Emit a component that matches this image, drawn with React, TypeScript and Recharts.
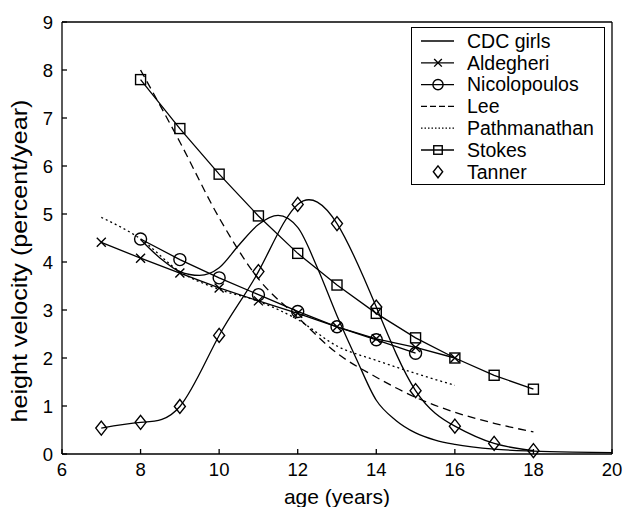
import React from 'react'
import { LineChart, Line, XAxis, YAxis, Legend } from 'recharts'

const FONT = '"Liberation Sans", Arial, Helvetica, sans-serif'

const xTicks = [6, 8, 10, 12, 14, 16, 18, 20]
const xTicksTop = [8, 10, 12, 14, 16, 18]
const yTicks = [0, 1, 2, 3, 4, 5, 6, 7, 8, 9]
const yTicksRight = [1, 2, 3, 4, 5, 6, 7, 8]

// CDC girls reference curve
const cdcAge = [8, 8.5, 9, 9.5, 10, 10.5, 11, 11.5, 12, 12.5, 13, 13.5, 14, 14.5, 15, 15.5, 16, 17, 18, 19, 20]
const cdcVel = [4.47, 4.08, 3.8, 3.72, 3.88, 4.35, 4.78, 4.97, 4.72, 3.88, 2.88, 1.97, 1.12, 0.7, 0.44, 0.29, 0.2, 0.1, 0.06, 0.04, 0.03]

const aldegheriAge = [7, 8, 9, 10, 11, 12, 13, 14, 15, 16]
const aldegheriVel = [4.41, 4.08, 3.77, 3.46, 3.19, 2.93, 2.65, 2.4, 2.22, 2.0]

const nicolopoulosAge = [8, 9, 10, 11, 12, 13, 14, 15]
const nicolopoulosVel = [4.48, 4.05, 3.67, 3.32, 2.97, 2.65, 2.38, 2.1]

const leeAge = [8, 9, 10, 11, 12, 13, 14, 15, 16, 17, 18]
const leeVel = [8.0, 6.5, 4.92, 3.65, 2.85, 2.1, 1.6, 1.18, 0.87, 0.64, 0.46]

const pathmanathanAge = [7, 8, 9, 10, 11, 12, 13, 14, 15, 16]
const pathmanathanVel = [4.93, 4.48, 3.8, 3.43, 3.18, 2.8, 2.25, 1.95, 1.68, 1.43]

const stokesAge = [8, 9, 10, 11, 12, 13, 14, 15, 16, 17, 18]
const stokesVel = [7.8, 6.78, 5.83, 4.96, 4.18, 3.52, 2.93, 2.42, 2.0, 1.64, 1.35]

const tannerAge = [7, 8, 9, 10, 11, 12, 13, 14, 15, 16, 17, 18]
const tannerVel = [0.54, 0.66, 0.99, 2.47, 3.8, 5.2, 4.8, 3.06, 1.32, 0.58, 0.22, 0.07]

type Pt = { age: number; v: number }
type Shape = 'x' | 'o' | 's' | 'd' | null

const zip = (a: number[], v: number[]): Pt[] => a.map((age, i) => ({ age, v: v[i] }))

function Marker({ shape, cx, cy, k = 1 }: { shape: Shape; cx: number; cy: number; k?: number }) {
  const common = { stroke: '#000', strokeWidth: 1.4, fill: 'none' }
  if (shape === 'x') {
    const h = 4.5 * k
    return <path {...common} d={`M${cx - h},${cy - h}L${cx + h},${cy + h}M${cx - h},${cy + h}L${cx + h},${cy - h}`} />
  }
  if (shape === 'o') return <circle {...common} cx={cx} cy={cy} r={6 * k} />
  if (shape === 's') {
    const h = 5 * k
    return <rect {...common} x={cx - h} y={cy - h} width={2 * h} height={2 * h} />
  }
  if (shape === 'd') {
    const w = 5.5 * k
    const h = 7 * k
    return <path {...common} d={`M${cx},${cy - h}L${cx + w},${cy}L${cx},${cy + h}L${cx - w},${cy}Z`} />
  }
  return <g />
}

const series = [
  { name: 'CDC girls', data: zip(cdcAge, cdcVel), curve: 'monotone', dash: undefined, marker: null as Shape, line: true },
  { name: 'Aldegheri', data: zip(aldegheriAge, aldegheriVel), curve: 'linear', dash: undefined, marker: 'x' as Shape, line: true },
  { name: 'Nicolopoulos', data: zip(nicolopoulosAge, nicolopoulosVel), curve: 'linear', dash: undefined, marker: 'o' as Shape, line: true },
  { name: 'Lee', data: zip(leeAge, leeVel), curve: 'monotone', dash: '8 5', marker: null as Shape, line: true },
  { name: 'Pathmanathan', data: zip(pathmanathanAge, pathmanathanVel), curve: 'monotone', dash: '2 3', marker: null as Shape, line: true },
  { name: 'Stokes', data: zip(stokesAge, stokesVel), curve: 'linear', dash: undefined, marker: 's' as Shape, line: true },
  { name: 'Tanner', data: zip(tannerAge, tannerVel), curve: 'natural', dash: undefined, marker: 'd' as Shape, line: false },
]

const legendDash: Record<string, string | undefined> = { Lee: '6 3', Pathmanathan: '1.5 2' }

function LegendBox() {
  return (
    <div
      style={{
        width: 194,
        height: 158,
        border: '1.5px solid #000',
        background: '#fff',
        boxSizing: 'border-box',
        fontFamily: FONT,
      }}
    >
      <svg width={191} height={155} style={{ display: 'block' }}>
        {series.map((s, i) => {
          const y = 13 + i * 21.8
          return (
            <g key={s.name}>
              {s.line && (
                <line x1={9} x2={42} y1={y} y2={y} stroke="#000" strokeWidth={1.3} strokeDasharray={legendDash[s.name]} />
              )}
              <Marker shape={s.marker} cx={26} cy={y} k={0.85} />
              <text x={55} y={y} dy="0.35em" fontSize={19.5} fill="#000">
                {s.name}
              </text>
            </g>
          )
        })}
      </svg>
    </div>
  )
}

export default function App() {
  const tickStyle = { fontSize: 18.5, fill: '#000', fontFamily: FONT }
  const axisLine = { stroke: '#000', strokeWidth: 1.3 }
  return (
    <div style={{ position: 'absolute', left: 0, top: 0, width: 624, height: 507, background: '#fff', fontFamily: FONT }}>
      <LineChart width={624} height={507} margin={{ top: 12, right: 2, bottom: 0, left: 0 }}>
        <XAxis
          dataKey="age"
          type="number"
          domain={[6, 20]}
          ticks={xTicks}
          allowDuplicatedCategory={false}
          height={53}
          tickSize={-5}
          tickMargin={14}
          tick={tickStyle}
          axisLine={axisLine}
          tickLine={axisLine}
          label={{
            value: 'age (years)',
            position: 'insideBottom',
            offset: 3,
            style: { fontSize: 21, fill: '#000', fontFamily: FONT },
          }}
        />
        <XAxis
          xAxisId="top"
          orientation="top"
          dataKey="age"
          type="number"
          domain={[6, 20]}
          ticks={xTicksTop}
          height={10}
          tickSize={-5}
          tickFormatter={() => ''}
          axisLine={axisLine}
          tickLine={axisLine}
        />
        <YAxis
          type="number"
          domain={[0, 9]}
          ticks={yTicks}
          width={62}
          tickSize={-5}
          tickMargin={14}
          tick={tickStyle}
          axisLine={axisLine}
          tickLine={axisLine}
          label={{
            value: 'height velocity (percent/year)',
            content: (p: any) => {
              const vb = p.viewBox
              const cx = vb.x + 19
              const cy = vb.y + vb.height / 2 + 23
              return (
                <text
                  x={cx}
                  y={cy}
                  transform={`rotate(-90 ${cx} ${cy})`}
                  textAnchor="middle"
                  dy="0.35em"
                  fontSize={21.5}
                  fill="#000"
                  fontFamily={FONT}
                  textLength={323}
                  lengthAdjust="spacingAndGlyphs"
                >
                  height velocity (percent/year)
                </text>
              )
            },
          }}
        />
        <YAxis
          yAxisId="right"
          orientation="right"
          type="number"
          domain={[0, 9]}
          ticks={yTicksRight}
          width={10}
          tickSize={-5}
          tickFormatter={() => ''}
          axisLine={axisLine}
          tickLine={axisLine}
        />
        <Legend
          layout="vertical"
          align="center"
          verticalAlign="middle"
          content={() => <LegendBox />}
          wrapperStyle={{ left: 411, top: 27, width: 194, height: 158 }}
        />
        {series.map((s) => (
          <Line
            key={s.name}
            name={s.name}
            data={s.data}
            dataKey="v"
            type={s.curve as any}
            stroke="#000"
            strokeWidth={1.3}
            strokeDasharray={s.dash}
            dot={
              s.marker
                ? (p: any) => <Marker key={`${s.name}-${p.index}`} shape={s.marker} cx={p.cx} cy={p.cy} />
                : false
            }
            activeDot={false}
            isAnimationActive={false}
          />
        ))}
      </LineChart>
    </div>
  )
}
